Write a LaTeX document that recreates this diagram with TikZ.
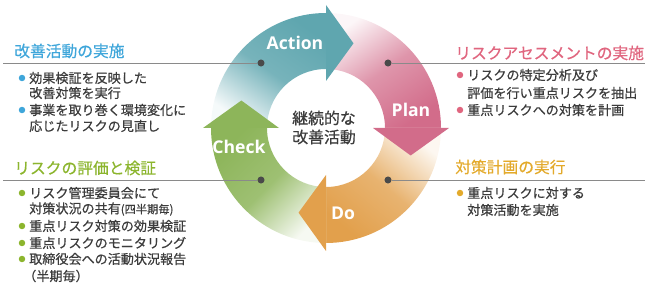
\documentclass[tikz,border=0pt]{standalone}
\usepackage{fontspec}
\setmainfont{Open Sans}
\newfontfamily\jp{Noto Sans CJK JP}[FakeBold=0.6]
\usepackage{tikz}
\usetikzlibrary{positioning}
\definecolor{cact}{HTML}{5FA6AF}
\definecolor{cplan}{HTML}{D26C8A}
\definecolor{cdo}{HTML}{E2A04C}
\definecolor{ccheck}{HTML}{8DB55A}
\definecolor{cblue}{HTML}{3FA6DA}
\definecolor{cred}{HTML}{E0667F}
\definecolor{cgold}{HTML}{E3AA2C}
\definecolor{cgreen}{HTML}{8CB52E}
\definecolor{ctext}{HTML}{3C3C3C}
\definecolor{crule}{HTML}{8A8A8A}
\definecolor{cpin}{HTML}{4A4A4A}
\tikzset{
  head/.style={font=\jp\fontsize{11.2}{13}\selectfont, anchor=west, inner sep=0pt},
  body/.style={font=\jp\fontsize{9.3}{11.5}\selectfont, text=ctext, anchor=west, inner sep=0pt},
  bul/.style={circle, fill=#1, inner sep=0pt, minimum size=4.6pt},
  pin/.style={circle, fill=cpin, inner sep=0pt, minimum size=5pt},
  rule/.style={draw=crule, line width=0.6pt},
  phase/.style={font=\bfseries\fontsize{12.5}{14}\selectfont, text=white},
  mid/.style={font=\jp\fontsize{11.3}{13}\selectfont, text=ctext},
}
\begin{document}
\begin{tikzpicture}[x=0.025cm,y=0.025cm]
\useasboundingbox (0,0) rectangle (648,288);
\begin{scope}[shift={(326,160)}]
\foreach \a/\sa/\tc/\mc/\bc in {
  180/-35/cact/cact!85!white/cact!6!white,
  90/35/cplan!6!white/cplan!72!white/cplan,
  0/-40/cdo!8!white/cdo!80!white/cdo,
  270/45/ccheck/ccheck!85!white/ccheck!8!white}{
  \shade[top color=\tc, bottom color=\bc, middle color=\mc, shading angle=\sa]
    (\a:115) arc[start angle=\a, end angle=\a-90, radius=115]
    -- ({\a-90}:59) arc[start angle=\a-90, end angle=\a, radius=59] -- cycle;
}
\foreach \a/\c in {90/cact, 0/cplan, 270/cdo, 180/ccheck}
  \fill[\c] (\a:47) -- (\a:123) -- ({\a-18}:89) -- cycle;
\end{scope}
\node[phase] (act) at (295,245) {Action};
\node[phase] (plan) at (411,178) {Plan};
\node[phase] (do) at (343,75) {Do};
\node[phase] (chk) at (239,141) {Check};
\node[mid] (cen1) at (324,170) {継続的な};
\node[mid] (cen2) at (324,151) {改善活動};

\node[pin] (pa) at (261,225) {};
\node[pin] (pp) at (388,225) {};
\node[pin] (pc) at (261,108) {};
\node[pin] (pd) at (388,108) {};
\coordinate (ea) at (3,225);
\coordinate (ep) at (645,225);
\coordinate (ec) at (3,108);
\coordinate (ed) at (645,108);
\draw[rule] (ea) -- (pa);
\draw[rule] (pp) -- (ep);
\draw[rule] (ec) -- (pc);
\draw[rule] (pd) -- (ed);

\node[head, text=cblue] (ha) at (14,237) {改善活動の実施};
\foreach \y/\t in {210/効果検証を反映した, 195/改善対策を実行, 178/事業を取り巻く環境変化に, 162/応じたリスクの見直し}
  \node[body] (ta-\y) at (29,\y) {\t};
\foreach \y in {210,178}
  \node[bul=cblue] (ba-\y) at (22,\y) {};

\node[head, text=cred] (hp) at (455,235) {リスクアセスメントの実施};
\foreach \y/\t in {213/リスクの特定分析及び, 195/評価を行い重点リスクを抽出, 178/重点リスクへの対策を計画}
  \node[body] (tp-\y) at (467,\y) {\t};
\foreach \y in {213,178}
  \node[bul=cred] (bp-\y) at (460,\y) {};

\node[head, text=cgold] (hd) at (455,121) {対策計画の実行};
\foreach \y/\t in {95/重点リスクに対する, 78/対策活動を実施}
  \node[body] (td-\y) at (467,\y) {\t};
\node[bul=cgold] (bd) at (460,95) {};

\node[head, text=cgreen] (hc) at (14,120) {リスクの評価と検証};
\foreach \y/\t in {95/リスク管理委員会にて, 79/{対策状況の共有{\fontsize{8}{10}\selectfont(四半期毎)}}, 62/重点リスク対策の効果検証, 45/重点リスクのモニタリング, 29/取締役会への活動状況報告}
  \node[body] (tc-\y) at (29,\y) {\t};
\node[body] (tc-12) at (23,12) {（半期毎）};
\foreach \y in {95,62,45,29}
  \node[bul=cgreen] (bc-\y) at (22,\y) {};
\end{tikzpicture}
\end{document}
